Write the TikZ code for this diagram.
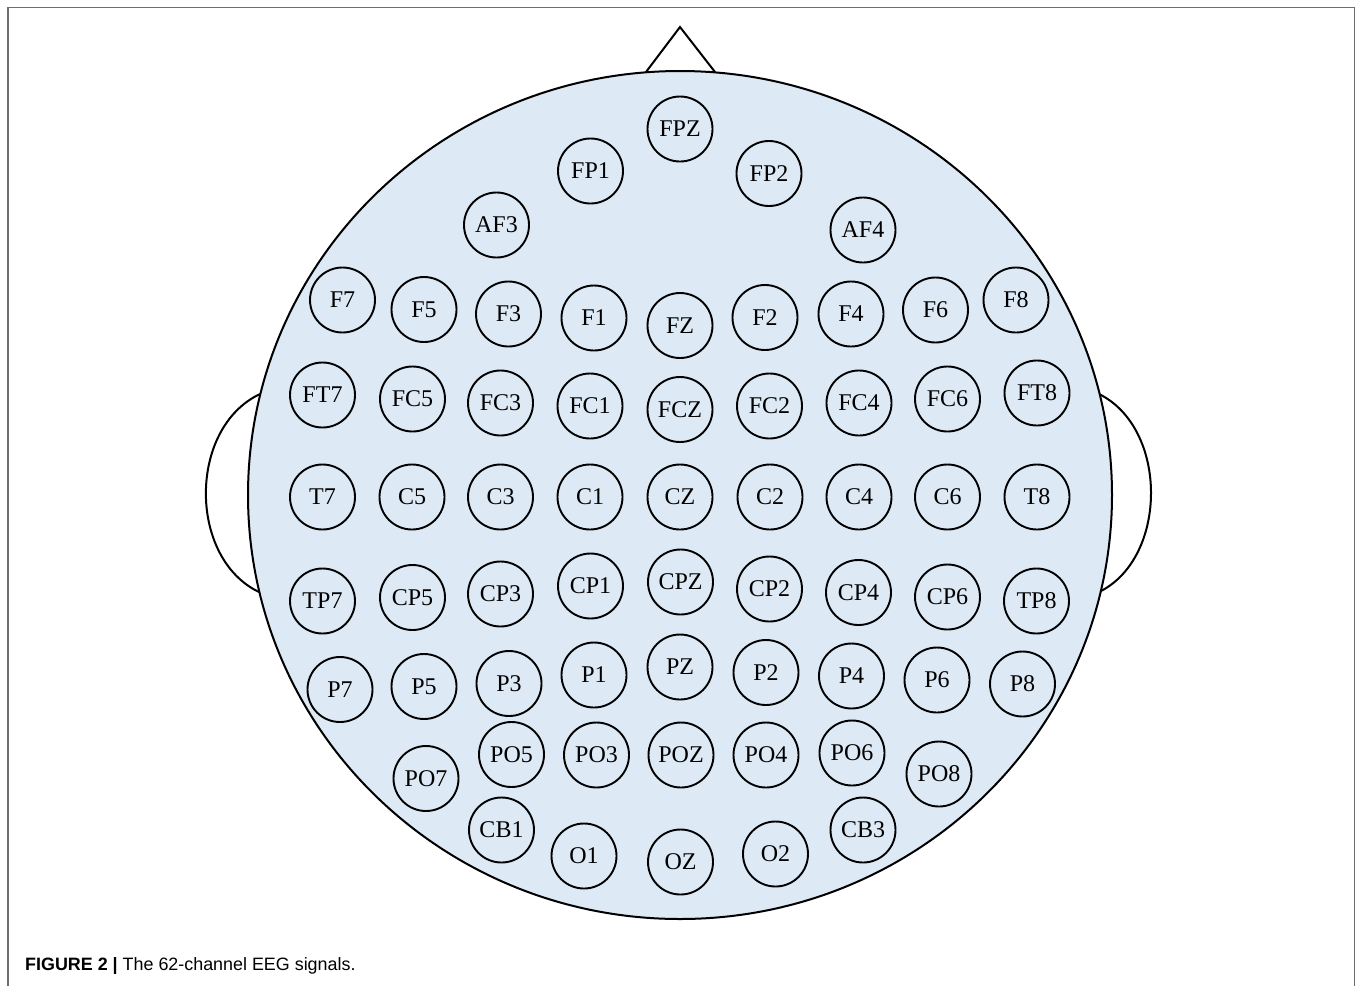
\documentclass[tikz,border=0pt]{standalone}
\usepackage{fontspec}
\setmainfont{Liberation Serif}
\newfontfamily\capfont{Liberation Sans}
\definecolor{headfill}{RGB}{221,233,245}
\definecolor{framegray}{RGB}{110,110,110}
\begin{document}
\begin{tikzpicture}[x=1pt,y=-1pt,
  electrode/.style={circle,draw=black,line width=1.9pt,minimum size=65pt,inner sep=0pt,
    font=\fontsize{24}{25}\selectfont},
  outline/.style={draw=black,line width=2pt},
  framestyle/.style={draw=framegray,line width=1.3pt}]
\useasboundingbox (0,0) rectangle (1360,986);
% frame
\draw[framestyle] (8,986) -- (8,7.5) -- (1354.5,7.5) -- (1354.5,986);
% nose and ears
\draw[outline,fill=white] (646,72) -- (680,27) -- (715,72);
\draw[outline,fill=white] (260,394) .. controls (188,428) and (188,558) .. (259,592);
\draw[outline,fill=white] (1099,394) .. controls (1168,428) and (1168,556) .. (1101,591);
% head
\draw[outline,fill=headfill] (680,495) ellipse [x radius=432, y radius=424];
% electrodes
\foreach \n/\x/\y in {
  FPZ/680/129, FP1/590.5/171, FP2/769/173.5, AF3/496.5/225, AF4/863/230,
  F7/342.5/300, F5/424/309.5, F3/508.5/314, F1/594/318, FZ/680/325.5,
  F2/765/317.5, F4/851/314, F6/935.5/310, F8/1016/300,
  FT7/322.5/395, FC5/412.5/399, FC3/500.5/403, FC1/590/406, FCZ/680/409.5,
  FC2/769.5/406, FC4/859/403, FC6/947.5/399, FT8/1037/393,
  T7/322.5/497, C5/412/497, C3/500.5/497, C1/590/497, CZ/680/497,
  C2/770/497, C4/859/497, C6/947.5/497, T8/1037/497,
  TP7/322.5/601, CP5/412.5/597.5, CP3/500.5/594, CP1/590.5/586, CPZ/680.5/582,
  CP2/769.5/589, CP4/858.5/592.5, CP6/947.5/597, TP8/1036.5/601,
  P7/340/689.5, P5/424/686.5, P3/509/683.5, P1/594/675, PZ/680/667,
  P2/766/672.5, P4/851.5/676, P6/937/680, P8/1022.5/684,
  PO7/426/778.5, PO5/511.5/754.5, PO3/596.5/755, POZ/681/755,
  PO4/766/755, PO6/852/753, PO8/939/774,
  CB1/501.5/830, O1/584/856, OZ/680.5/862, O2/775.5/854, CB3/863/830}
  \node[electrode] (\n) at (\x,\y) {\n};
% caption
\node[anchor=base west,inner sep=0pt,font=\capfont\fontsize{17.9}{20}\selectfont] (caption) at (25,970.7)
  {\textbf{FIGURE 2 |} The 62-channel EEG signals.};
\end{tikzpicture}
\end{document}
